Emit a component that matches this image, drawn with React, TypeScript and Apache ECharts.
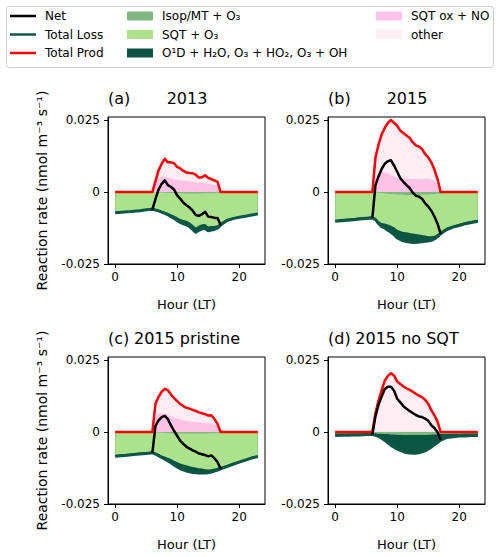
import { useEffect, useRef } from "react";
import * as echarts from "echarts";

// Time axis (local hour); half-hourly during daytime
const HOURS = [0, 1, 2, 3, 4, 5, 6, 6.5, 7, 7.5, 8, 8.5, 9, 9.5, 10, 10.5, 11, 11.5, 12, 12.5, 13, 13.5, 14, 14.5, 15, 15.5, 16, 16.5, 17, 18, 19, 20, 21, 22, 23];
const NET_START = 6;
const NET_END = 17;

// All rates below are in 10^-3 nmol m^-3 s^-1
const UNIT = 1e-3;

// (a) 2013
const SQTOX_2013 = [0, 0, 0, 0, 0, 0, 0, 3.0, 4.8, 5.3, 5.3, 5.0, 4.7, 4.4, 4.2, 4.0, 3.9, 3.8, 3.7, 3.6, 3.4, 3.3, 3.2, 3.0, 2.9, 2.7, 2.5, 2.2, 0, 0, 0, 0, 0, 0, 0];
const OTHER_2013 = [0, 0, 0, 0, 0, 0, 0, 0.8, 2.7, 4.5, 6.2, 5.3, 5.6, 5.6, 4.5, 4.2, 3.4, 3.0, 2.9, 2.9, 2.6, 1.7, 1.9, 2.8, 2.0, 1.8, 1.5, 1.3, 0, 0, 0, 0, 0, 0, 0];
const ISOP_2013 = [-0.1, -0.1, -0.1, -0.1, -0.1, -0.1, -0.1, -0.1, -0.15, -0.2, -0.25, -0.3, -0.35, -0.4, -0.4, -0.45, -0.45, -0.5, -0.5, -0.5, -0.5, -0.5, -0.5, -0.45, -0.45, -0.4, -0.4, -0.35, -0.3, -0.2, -0.15, -0.1, -0.1, -0.1, -0.1];
const SQT_2013 = [-6.8, -6.6, -6.5, -6.3, -6.1, -5.8, -5.6, -5.8, -6.0, -6.3, -6.6, -6.9, -7.4, -7.8, -8.4, -8.9, -9.3, -9.5, -10.0, -10.9, -11.8, -11.1, -10.7, -10.7, -11.5, -11.4, -11.4, -11.2, -10.4, -9.2, -8.7, -8.4, -8.0, -7.6, -7.2];
const O1D_2013 = [-0.3, -0.3, -0.3, -0.3, -0.3, -0.3, -0.3, -0.35, -0.4, -0.5, -0.6, -0.7, -0.8, -0.95, -1.1, -1.2, -1.3, -1.4, -1.5, -1.6, -1.7, -1.7, -1.6, -1.5, -1.5, -1.4, -1.2, -1.0, -0.8, -0.5, -0.4, -0.3, -0.3, -0.3, -0.3];

// (b) 2015
const SQTOX_2015 = [0, 0, 0, 0, 0, 0, 0, 4.5, 6.5, 7.0, 6.9, 6.4, 5.9, 5.4, 5.0, 4.8, 4.7, 4.6, 4.5, 4.5, 4.5, 4.5, 4.6, 4.6, 4.6, 4.4, 3.8, 2.6, 0, 0, 0, 0, 0, 0, 0];
const OTHER_2015 = [0, 0, 0, 0, 0, 0, 0, 7.5, 10.0, 13.0, 15.4, 17.6, 19.1, 18.6, 18.0, 16.5, 15.8, 15.0, 14.3, 12.8, 11.7, 11.3, 10.3, 8.6, 7.4, 5.9, 4.0, 1.9, 0, 0, 0, 0, 0, 0, 0];
const ISOP_2015 = [-0.2, -0.2, -0.2, -0.2, -0.2, -0.2, -0.2, -0.2, -0.3, -0.4, -0.5, -0.6, -0.7, -0.8, -0.85, -0.9, -0.95, -1.0, -1.0, -1.0, -1.0, -1.0, -0.95, -0.9, -0.85, -0.8, -0.7, -0.6, -0.5, -0.35, -0.3, -0.25, -0.2, -0.2, -0.2];
const SQT_2015 = [-9.4, -9.2, -9.0, -8.8, -8.6, -8.4, -8.2, -8.7, -9.8, -10.4, -10.4, -10.7, -11.0, -11.4, -12.3, -12.6, -12.9, -13.0, -13.2, -13.4, -13.6, -13.8, -14.0, -14.2, -14.5, -14.6, -14.5, -14.0, -13.2, -12.0, -11.3, -10.8, -10.2, -9.8, -9.4];
const O1D_2015 = [-0.6, -0.6, -0.6, -0.6, -0.6, -0.6, -0.6, -0.7, -0.9, -1.2, -1.6, -2.0, -2.3, -2.6, -2.8, -3.0, -3.1, -3.2, -3.2, -3.1, -2.9, -2.6, -2.3, -2.0, -1.7, -1.4, -1.1, -0.9, -0.8, -0.7, -0.6, -0.6, -0.6, -0.6, -0.6];

// (c) 2015 pristine
const SQTOX_PRISTINE = [0, 0, 0, 0, 0, 0, 0, 5.0, 6.3, 6.5, 6.3, 5.9, 5.4, 5.0, 4.6, 4.3, 4.1, 3.9, 3.7, 3.6, 3.5, 3.3, 3.2, 3.1, 3.0, 2.9, 2.6, 2.0, 0, 0, 0, 0, 0, 0, 0];
const OTHER_PRISTINE = [0, 0, 0, 0, 0, 0, 0, 4.8, 5.9, 7.5, 8.7, 8.6, 7.6, 6.8, 6.1, 5.4, 4.9, 4.5, 4.4, 4.1, 3.8, 3.5, 3.3, 3.1, 2.7, 2.9, 1.9, 0.8, 0, 0, 0, 0, 0, 0, 0];
const ISOP_PRISTINE = [-0.15, -0.15, -0.15, -0.15, -0.15, -0.15, -0.15, -0.15, -0.2, -0.25, -0.3, -0.35, -0.4, -0.45, -0.5, -0.55, -0.55, -0.55, -0.55, -0.55, -0.55, -0.55, -0.5, -0.5, -0.45, -0.4, -0.4, -0.35, -0.3, -0.25, -0.2, -0.15, -0.15, -0.15, -0.15];
const SQT_PRISTINE = [-7.8, -7.6, -7.4, -7.2, -7.0, -6.8, -6.6, -7.0, -7.4, -7.9, -8.2, -8.6, -9.0, -9.5, -9.9, -10.4, -10.7, -11.0, -11.3, -11.6, -11.8, -12.0, -12.2, -12.4, -12.6, -12.5, -12.3, -12.1, -11.8, -11.2, -10.5, -9.8, -9.1, -8.4, -7.9];
const O1D_PRISTINE = [-0.5, -0.5, -0.5, -0.5, -0.5, -0.5, -0.5, -0.5, -0.6, -0.7, -0.9, -1.1, -1.3, -1.5, -1.7, -1.8, -1.9, -2.0, -2.0, -1.9, -1.8, -1.7, -1.5, -1.3, -1.1, -1.0, -0.9, -0.8, -0.7, -0.6, -0.5, -0.5, -0.5, -0.5, -0.5];

// (d) 2015 no SQT
const SQTOX_NOSQT = [0, 0, 0, 0, 0, 0, 0, 0.1, 0.1, 0.1, 0.1, 0.1, 0.1, 0.1, 0.1, 0.1, 0.1, 0.1, 0.1, 0.1, 0.1, 0.1, 0.1, 0.1, 0.1, 0.1, 0.1, 0.1, 0, 0, 0, 0, 0, 0, 0];
const OTHER_NOSQT = [0, 0, 0, 0, 0, 0, 0, 6.5, 10.9, 14.4, 17.7, 19.4, 20.3, 19.5, 17.4, 16.6, 15.7, 15.1, 14.5, 13.9, 13.2, 12.5, 12.0, 11.1, 9.7, 7.5, 5.7, 3.5, 0, 0, 0, 0, 0, 0, 0];
const ISOP_NOSQT = [-0.4, -0.4, -0.4, -0.4, -0.4, -0.4, -0.4, -0.4, -0.5, -0.55, -0.6, -0.7, -0.75, -0.8, -0.85, -0.9, -0.95, -1.0, -1.0, -1.0, -1.0, -1.0, -1.0, -0.95, -0.9, -0.85, -0.8, -0.75, -0.7, -0.6, -0.55, -0.5, -0.45, -0.4, -0.4];
const SQT_NOSQT = [0, 0, 0, 0, 0, 0, 0, 0, 0, 0, 0, 0, 0, 0, 0, 0, 0, 0, 0, 0, 0, 0, 0, 0, 0, 0, 0, 0, 0, 0, 0, 0, 0, 0, 0];
const O1D_NOSQT = [-0.8, -0.7, -0.7, -0.6, -0.6, -0.5, -0.5, -0.7, -1.0, -1.6, -2.3, -3.1, -3.9, -4.5, -5.1, -5.5, -5.9, -6.1, -6.3, -6.4, -6.4, -6.2, -5.9, -5.6, -5.0, -4.4, -3.6, -2.9, -2.1, -1.3, -1.1, -0.9, -0.9, -0.8, -0.8];

// Axis ticks
const X_TICKS = [0, 10, 20];
const Y_TICKS = [-0.025, 0, 0.025];
const Y_TICK_LABELS = ["-0.025", "0", "0.025"];

const FONT = "DejaVu Sans";
const COLORS = {
  net: "#000000",
  loss: "#0d5747",
  prod: "#ff0000",
  isop: "#80b882",
  sqt: "#ade28c",
  o1d: "#0b5442",
  sqtOx: "#ffc2e7",
  other: "#ffedf3",
};

const PANELS = [
  { letter: "(a)", title: "2013", sqtOx: SQTOX_2013, other: OTHER_2013, isop: ISOP_2013, sqt: SQT_2013, o1d: O1D_2013 },
  { letter: "(b)", title: "2015", sqtOx: SQTOX_2015, other: OTHER_2015, isop: ISOP_2015, sqt: SQT_2015, o1d: O1D_2015 },
  { letter: "(c)", title: "2015 pristine", sqtOx: SQTOX_PRISTINE, other: OTHER_PRISTINE, isop: ISOP_PRISTINE, sqt: SQT_PRISTINE, o1d: O1D_PRISTINE },
  { letter: "(d)", title: "2015 no SQT", sqtOx: SQTOX_NOSQT, other: OTHER_NOSQT, isop: ISOP_NOSQT, sqt: SQT_NOSQT, o1d: O1D_NOSQT },
];

// Panel frames in pixels
const GRID_W = 157;
const GRID_H = 147;
const GRID_POS = [
  { left: 108, top: 117 },
  { left: 328, top: 117 },
  { left: 108, top: 357 },
  { left: 328, top: 357 },
];

const pairs = (vals: number[]) => HOURS.map((h, i) => [h, vals[i] * UNIT]);
const sumOf = (...arrs: number[][]) => HOURS.map((_, i) => arrs.reduce((s, a) => s + a[i], 0));

function buildOption() {
  const grid: any[] = [];
  const xAxis: any[] = [];
  const yAxis: any[] = [];
  const series: any[] = [];
  const graphic: any[] = [];

  PANELS.forEach((p, i) => {
    const g = GRID_POS[i];
    grid.push({
      left: g.left,
      top: g.top,
      width: GRID_W,
      height: GRID_H,
      show: true,
      borderColor: "#000",
      borderWidth: 1,
      backgroundColor: "transparent",
    });
    xAxis.push({
      type: "value",
      gridIndex: i,
      min: -1.15,
      max: 24.15,
      name: "Hour (LT)",
      nameLocation: "middle",
      nameGap: 34,
      nameTextStyle: { fontSize: 13, fontFamily: FONT, color: "#000" },
      axisLine: { show: true, onZero: false, lineStyle: { color: "#000", width: 1 } },
      axisTick: { show: true, length: 4, customValues: X_TICKS, lineStyle: { color: "#000" } },
      axisLabel: { customValues: X_TICKS, fontSize: 12, fontFamily: FONT, color: "#000", margin: 7 },
      splitLine: { show: false },
    });
    yAxis.push({
      type: "value",
      gridIndex: i,
      min: -0.025,
      max: 0.02604,
      axisLine: { show: true, onZero: false, lineStyle: { color: "#000", width: 1 } },
      axisTick: { show: true, length: 4, customValues: Y_TICKS, lineStyle: { color: "#000" } },
      axisLabel: {
        customValues: Y_TICKS,
        fontSize: 12,
        fontFamily: FONT,
        color: "#000",
        margin: 8,
        formatter: (v: number) => {
          const k = Y_TICKS.findIndex((t) => Math.abs(t - v) < 1e-9);
          return k >= 0 ? Y_TICK_LABELS[k] : "";
        },
      },
      splitLine: { show: false },
    });

    // Contribution bands: each band is filled from zero to its cumulative
    // edge, outermost first, so inner bands paint over the outer ones.
    const band = (name: string, edge: number[], color: string) => ({
      name,
      type: "line",
      xAxisIndex: i,
      yAxisIndex: i,
      data: pairs(edge),
      symbol: "none",
      lineStyle: { width: 0, opacity: 0 },
      areaStyle: { color, opacity: 1, origin: 0 },
      z: 1,
      silent: true,
    });
    const lossInner = p.isop;
    const lossMid = sumOf(p.isop, p.sqt);
    const totalLoss = sumOf(p.isop, p.sqt, p.o1d);
    const prodInner = p.sqtOx;
    const totalProd = sumOf(p.sqtOx, p.other);
    const net = sumOf(totalLoss, totalProd);

    series.push(band("O1D + H2O, O3 + HO2, O3 + OH", totalLoss, COLORS.o1d));
    series.push(band("SQT + O3", lossMid, COLORS.sqt));
    series.push(band("Isop/MT + O3", lossInner, COLORS.isop));
    series.push(band("other", totalProd, COLORS.other));
    series.push(band("SQT ox + NO", prodInner, COLORS.sqtOx));

    const line = (name: string, data: number[][], color: string, width: number, z: number) => ({
      name,
      type: "line",
      xAxisIndex: i,
      yAxisIndex: i,
      data,
      symbol: "none",
      lineStyle: { color, width, join: "round", cap: "butt" },
      z,
      silent: true,
    });
    series.push(line("Total Loss", pairs(totalLoss), COLORS.loss, 3, 3));
    series.push(line("Total Prod", pairs(totalProd), COLORS.prod, 2.5, 4));
    const netPairs = HOURS.map((h, k) => [h, net[k] * UNIT]).filter(
      (d) => d[0] >= NET_START && d[0] <= NET_END
    );
    series.push(line("Net", netPairs, COLORS.net, 2.5, 5));

    // Panel headings
    const titleY = g.top - 19;
    graphic.push({
      type: "text",
      x: g.left,
      y: titleY,
      style: { text: p.letter, fontSize: 16, fontFamily: FONT, fill: "#000", align: "left", verticalAlign: "middle", textAlign: "left", textVerticalAlign: "middle" },
    });
    graphic.push({
      type: "text",
      x: g.left + GRID_W / 2 + 0.5,
      y: titleY,
      style: { text: p.title, fontSize: 16, fontFamily: FONT, fill: "#000", align: "center", verticalAlign: "middle", textAlign: "center", textVerticalAlign: "middle" },
    });
  });

  // Shared y-axis titles of the left column
  [GRID_POS[0], GRID_POS[2]].forEach((g) => {
    graphic.push({
      type: "text",
      x: 42,
      y: g.top + GRID_H / 2,
      rotation: Math.PI / 2,
      style: {
        text: "Reaction rate (nmol m⁻³ s⁻¹)",
        fontSize: 14,
        fontFamily: FONT,
        fill: "#000",
        align: "center",
        verticalAlign: "middle",
        textAlign: "center",
        textVerticalAlign: "middle",
      },
    });
  });

  // Legend box
  graphic.push({
    type: "rect",
    shape: { x: 6.5, y: 6.5, width: 487, height: 61, r: 3 },
    style: { fill: "#fff", stroke: "#cccccc", lineWidth: 1 },
    z: 10,
  });
  const rowY = [16, 34.5, 53];
  const legendText = (text: string, x: number, y: number) => ({
    type: "text",
    x,
    y,
    z: 11,
    style: { text, fontSize: 12, fontFamily: FONT, fill: "#000", align: "left", verticalAlign: "middle", textAlign: "left", textVerticalAlign: "middle" },
  });
  const lineItems = [
    { label: "Net", color: COLORS.net, width: 2.5 },
    { label: "Total Loss", color: COLORS.loss, width: 2.5 },
    { label: "Total Prod", color: COLORS.prod, width: 2.5 },
  ];
  lineItems.forEach((it, r) => {
    graphic.push({
      type: "line",
      shape: { x1: 10, y1: rowY[r], x2: 36, y2: rowY[r] },
      style: { stroke: it.color, lineWidth: it.width },
      z: 11,
    });
    graphic.push(legendText(it.label, 45, rowY[r]));
  });
  const patchItems = [
    { label: "Isop/MT + O₃", color: COLORS.isop, x: 127, r: 0 },
    { label: "SQT + O₃", color: COLORS.sqt, x: 127, r: 1 },
    { label: "O¹D + H₂O, O₃ + HO₂, O₃ + OH", color: COLORS.o1d, x: 127, r: 2 },
    { label: "SQT ox + NO", color: COLORS.sqtOx, x: 376, r: 0 },
    { label: "other", color: COLORS.other, x: 376, r: 1 },
  ];
  patchItems.forEach((it) => {
    graphic.push({
      type: "rect",
      shape: { x: it.x, y: rowY[it.r] - 4.5, width: 26, height: 9 },
      style: { fill: it.color },
      z: 11,
    });
    graphic.push(legendText(it.label, it.x + 35, rowY[it.r]));
  });

  return {
    animation: false,
    backgroundColor: "#fff",
    textStyle: { fontFamily: FONT },
    grid,
    xAxis,
    yAxis,
    series,
    graphic,
  };
}

export default function App() {
  const ref = useRef<HTMLDivElement>(null);
  useEffect(() => {
    if (!ref.current) return;
    const chart = echarts.init(ref.current, undefined, { renderer: "svg" });
    chart.setOption(buildOption() as any);
    return () => chart.dispose();
  }, []);
  return (
    <div
      ref={ref}
      style={{ position: "absolute", left: 0, top: 0, width: 500, height: 557 }}
    />
  );
}
